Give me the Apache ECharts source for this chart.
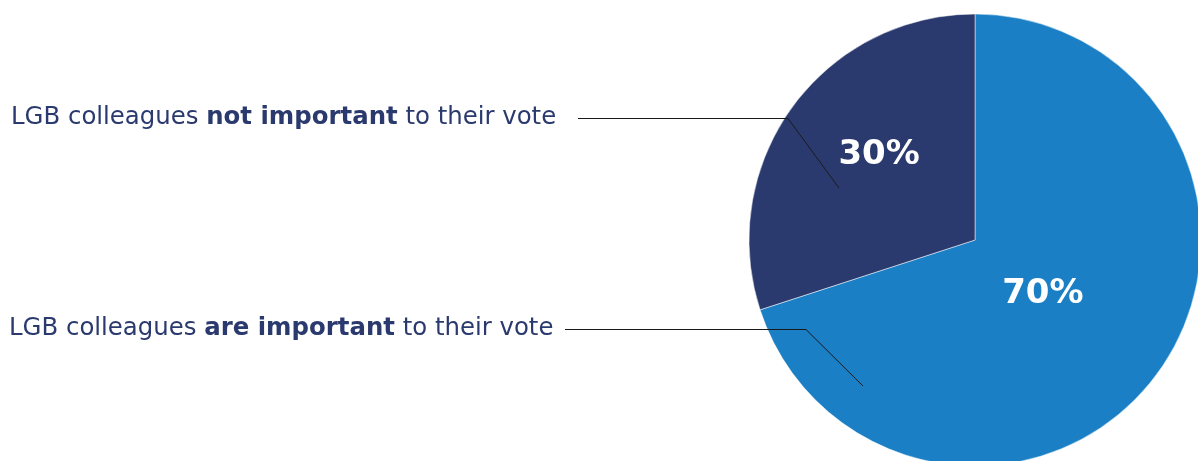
<!DOCTYPE html>
<html><head><meta charset="utf-8">
<script src="https://cdn.jsdelivr.net/npm/echarts@6/dist/echarts.min.js"></script>
<style>html,body{margin:0;padding:0;background:#fff}#c{width:1198px;height:461px}</style>
</head><body><div id="c"></div>
<script>
const categories = ['are important', 'not important'];
const values = [70, 30];
const labelPrefix = 'LGB colleagues ';
const labelSuffix = ' to their vote';
const colors = ['#1a7fc4', '#2b3a6e'];

const chart = echarts.init(document.getElementById('c'));
const textColor = '#2b3a6e';
const font = '"DejaVu Sans", sans-serif';

function labelText(i, x, y) {
  return {
    type: 'text', left: x, top: y,
    style: {
      text: '{n|' + labelPrefix + '}{b|' + categories[i] + '}{n|' + labelSuffix + '}',
      rich: {
        n: { fontFamily: font, fontSize: 24.4, fill: textColor, fontWeight: 'normal' },
        b: { fontFamily: font, fontSize: 24.4, fill: textColor, fontWeight: 'bold' }
      }
    }
  };
}
function leader(pts) {
  return { type: 'polyline', shape: { points: pts }, style: { stroke: '#1a1a1a', lineWidth: 1, fill: null }, z: 10 };
}

chart.setOption({
  animation: false,
  series: [{
    type: 'pie',
    center: [975, 240],
    radius: 226,
    startAngle: 90,
    clockwise: true,
    silent: true,
    data: categories.map((c, i) => ({
      name: c, value: values[i],
      itemStyle: { color: colors[i] },
      label: { offset: i === 0 ? [-26, -14] : [-2, -17] }
    })),
    itemStyle: { borderColor: '#ffffff', borderWidth: 0.5 },
    label: {
      show: true, position: 'inside',
      formatter: p => p.value + '%',
      color: '#fff', fontSize: 34, fontWeight: 'bold', fontFamily: font
    },
    labelLine: { show: false }
  }],
  graphic: [
    labelText(1, 11, 106),
    labelText(0, 9, 317),
    leader([[578, 118.5], [788, 118.5], [839, 188]]),
    leader([[565, 329.5], [806, 329.5], [863, 386]])
  ]
});
</script></body></html>
